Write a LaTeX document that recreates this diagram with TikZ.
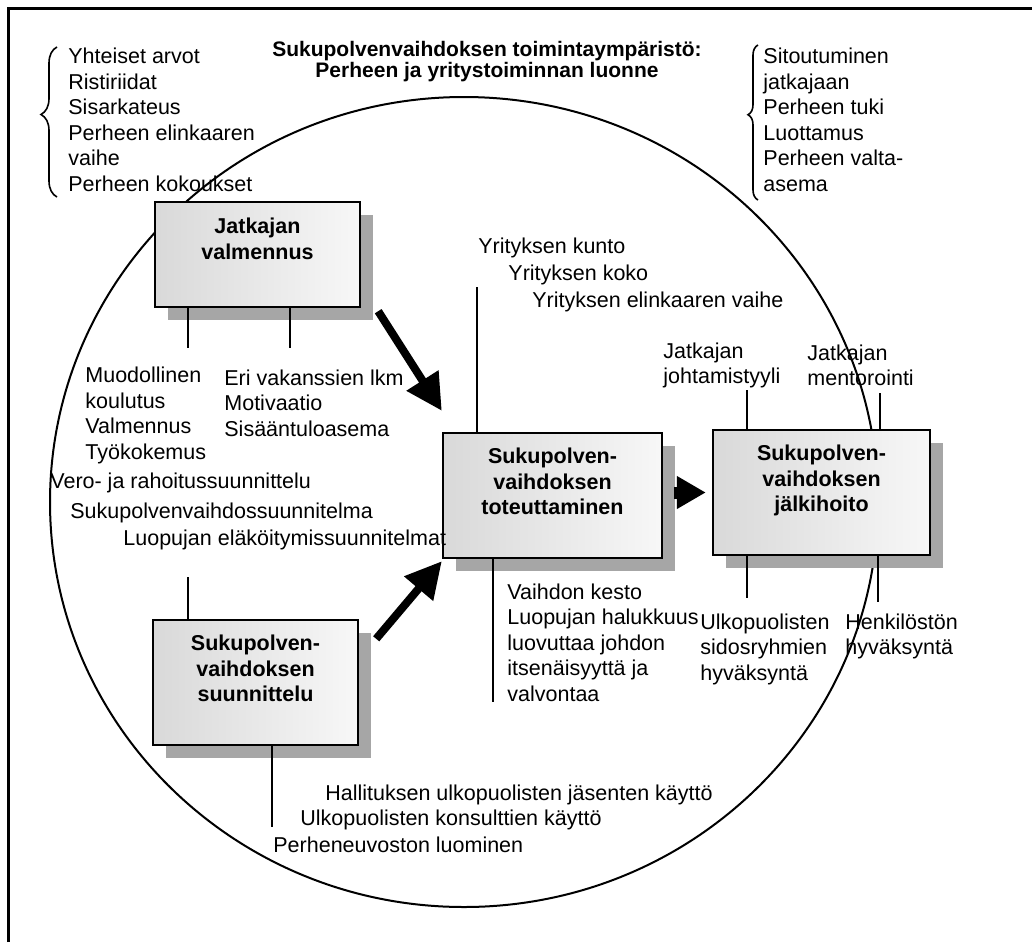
\documentclass[tikz,border=0pt]{standalone}
\usepackage{fontspec}
\setmainfont{Liberation Sans}
\usetikzlibrary{arrows.meta, positioning, shadows, decorations.pathreplacing}

\begin{document}
\begin{tikzpicture}[x=0.5pt, y=-0.5pt,
    every node/.style={font=\fontsize{10.75}{12.75}\selectfont},
    box/.style={rectangle, draw, line width=1.2pt, align=center, inner sep=0pt,
        font=\fontsize{10.75}{12.75}\selectfont\bfseries, text depth=14pt,
        left color=gray!30, right color=gray!6,
        drop shadow={shadow xshift=6.5pt, shadow yshift=-6.5pt, fill=gray!70, opacity=1}},
    note/.style={anchor=west, align=left, inner sep=0pt},
    stem/.style={line width=0.8pt},
    curly/.style={line width=0.8pt, decorate, decoration={brace, aspect=0.55}},
    arrow/.style={-{Triangle[length=18pt, width=18pt]}, line width=4pt},
    bigarrow/.style={-{Triangle[length=14.5pt, width=15.5pt]}, line width=6pt}
]
\useasboundingbox (0,0) rectangle (1032,942);

% frame and environment
\draw[line width=1.5pt] (8,942) -- (8,8) -- (1032,8);
\draw[line width=1pt] (464,502) ellipse [x radius=207pt, y radius=202.5pt];

\node[font=\fontsize{10.5}{10.5}\selectfont\bfseries, align=center, inner sep=0pt] (title) at (487,62)
    {Sukupolvenvaihdoksen toimintaympäristö:\\Perheen ja yritystoiminnan luonne};

% phases
\node[box, minimum width=102.5pt, minimum height=52.5pt, text depth=16pt] (train) at (257.5,254.5) {Jatkajan\\valmennus};
\node[box, minimum width=109.5pt, minimum height=62.5pt] (do) at (552.5,495.5) {Sukupolven-\\vaihdoksen\\toteuttaminen};
\node[box, minimum width=102.5pt, minimum height=62.5pt] (plan) at (255.5,682.5) {Sukupolven-\\vaihdoksen\\suunnittelu};
\node[box, minimum width=108.5pt, minimum height=62.5pt] (after) at (821.5,492.5) {Sukupolven-\\vaihdoksen\\jälkihoito};

% family factors
\node[note] (family) at (68,120) {Yhteiset arvot\\Ristiriidat\\Sisarkateus\\Perheen elinkaaren\\vaihe\\Perheen kokoukset};
\node[note] (support) at (763,120) {Sitoutuminen\\jatkajaan\\Perheen tuki\\Luottamus\\Perheen valta-\\asema};
\coordinate (fb1) at (57,197);
\coordinate (fb2) at (57,47);
\draw[curly, decoration={amplitude=8pt}] (fb1) -- (fb2);
\coordinate (sb1) at (758,200);
\coordinate (sb2) at (758,45);
\draw[curly, decoration={amplitude=5pt}] (sb1) -- (sb2);

% training
\node[note] (edu) at (85,415.5) {Muodollinen\\koulutus\\Valmennus\\Työkokemus};
\node[note] (motiv) at (224,403) {Eri vakanssien lkm\\Motivaatio\\Sisääntuloasema};
\coordinate (t1) at (188,348);
\coordinate (t2) at (290,348);
\draw[stem] (t1 |- train.south) -- (t1);
\draw[stem] (t2 |- train.south) -- (t2);

% implementation
\node[note] (firm1) at (478,248) {Yrityksen kunto};
\node[note] (firm2) at (508,275) {Yrityksen koko};
\node[note] (firm3) at (532,302) {Yrityksen elinkaaren vaihe};
\node[note] (dur) at (507,642.5) {Vaihdon kesto\\Luopujan halukkuus\\luovuttaa johdon\\itsenäisyyttä ja\\valvontaa};
\coordinate (d1) at (477,287);
\coordinate (d2) at (493,702);
\draw[stem] (d1) -- (d1 |- do.north);
\draw[stem] (d2 |- do.south) -- (d2);

% aftercare
\node[note] (lead) at (663,365.5) {Jatkajan\\johtamistyyli};
\node[note] (mentor) at (807,365.5) {Jatkajan\\mentorointi};
\node[note] (stake) at (700,649) {Ulkopuolisten\\sidosryhmien\\hyväksyntä};
\node[note] (staff) at (845,636.5) {Henkilöstön\\hyväksyntä};
\coordinate (a1) at (747,390);
\coordinate (a2) at (880,393);
\coordinate (a3) at (747,598);
\coordinate (a4) at (878,602);
\draw[stem] (a1) -- (a1 |- after.north);
\draw[stem] (a2) -- (a2 |- after.north);
\draw[stem] (a3 |- after.south) -- (a3);
\draw[stem] (a4 |- after.south) -- (a4);

% planning
\node[note] (tax) at (50,483) {Vero- ja rahoitussuunnittelu};
\node[note] (sched) at (70,513) {Sukupolvenvaihdossuunnitelma};
\node[note] (pension) at (123,540) {Luopujan eläköitymissuunnitelmat};
\node[note] (board) at (325,795) {Hallituksen ulkopuolisten jäsenten käyttö};
\node[note] (consult) at (300,820) {Ulkopuolisten konsulttien käyttö};
\node[note] (council) at (273,845) {Perheneuvoston luominen};
\coordinate (p1) at (188,577);
\coordinate (p2) at (272,827);
\draw[stem] (p1) -- (p1 |- plan.north);
\draw[stem] (p2 |- plan.south) -- (p2);

% flow
\draw[arrow] ([xshift=8.5pt, yshift=-1.5pt]train.south east) -- ([yshift=10.5pt]do.north west);
\draw[arrow] ([xshift=8.5pt, yshift=-10pt]plan.north east) -- ([yshift=-1pt]do.south west);
\draw[bigarrow, shorten <=5.5pt, shorten >=3pt] (after.west -| do.east) -- (after.west);

\end{tikzpicture}
\end{document}
